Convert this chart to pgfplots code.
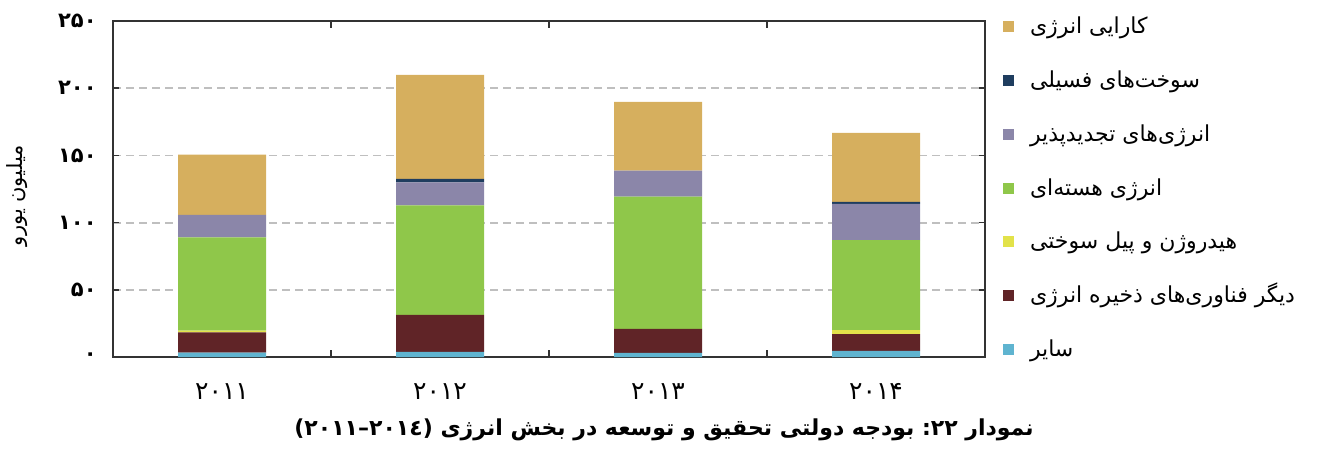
\documentclass[border=0pt]{standalone}
\usepackage{pgfplots}
\pgfplotsset{compat=1.18}
\usepackage{fontspec}
\TeXXeTstate=1
\newfontfamily\arabicfont[Script=Arabic]{DejaVu Sans}
\newfontfamily\pnfont{DejaVu Sans}
\definecolor{cgold}{HTML}{D6AF5E}
\definecolor{cnavy}{HTML}{1F3D5F}
\definecolor{cpurple}{HTML}{8B86A9}
\definecolor{cgreen}{HTML}{8FC74A}
\definecolor{cyellow}{HTML}{E2E24A}
\definecolor{cmaroon}{HTML}{602427}
\definecolor{cblue}{HTML}{5FB4D0}
\definecolor{caxis}{HTML}{333333}
\definecolor{cgrid}{HTML}{BFBFBF}
\pgfplotsset{
  sq/.style={legend image code/.code={\fill[##1] (0pt,-1.75pt) rectangle (5.5pt,3.75pt);}}
}
\begin{document}
\begin{tikzpicture}
\begin{axis}[
  scale only axis, width=436pt, height=168pt,
  xmin=-0.5, xmax=3.5, ymin=0, ymax=250,
  ybar stacked, bar width=44pt,
  clip=false,
  axis line style={draw=caxis, line width=0.9pt},
  xtick={0,1,2,3},
  xticklabels={۲۰۱۱,۲۰۱۲,۲۰۱۳,۲۰۱۴},
  minor xtick={0.5,1.5,2.5},
  major x tick style={draw=none},
  minor x tick style={draw=caxis, line width=0.8pt},
  minor tick length=3.5pt,
  ytick={0,50,100,150,200,250},
  yticklabels={۰,۵۰,۱۰۰,۱۵۰,۲۰۰,۲۵۰},
  ytick style={draw=caxis, line width=0.8pt},
  major tick length=3pt,
  tick align=inside,
  ymajorgrids,
  major grid style={draw=cgrid, line width=0.9pt, dash pattern=on 4pt off 2.5pt},
  yticklabel style={font=\pnfont\bfseries\fontsize{10.5}{12}\selectfont, inner sep=0pt, anchor=east, xshift=-8pt},
  xticklabel style={font=\pnfont\fontsize{12.5}{14}\selectfont, inner sep=0pt, anchor=north, yshift=-13pt},
  ylabel={\arabicfont\beginR میلیون یورو\endR},
  ylabel style={font=\fontsize{10.5}{12}\selectfont, at={(rel axis cs:-0.110,0.48)}, anchor=center},
  reverse legend,
  legend cell align=left,
  legend style={at={(rel axis cs:1.0206,0.497)}, anchor=west, draw=none, fill=none,
    inner sep=0pt, outer sep=0pt, row sep=15.85pt, column sep=8pt,
    font=\arabicfont\fontsize{11}{13}\selectfont,
    nodes={inner sep=0pt, text height=8pt, text depth=3pt}},
]
\addplot[fill=cblue, draw=none, sq] coordinates {(0,3.2) (1,3.9) (2,3.0) (3,4.5)};
\addlegendentry{\beginR سایر\endR}
\addplot[fill=cmaroon, draw=none, sq] coordinates {(0,15.2) (1,27.5) (2,18.0) (3,12.6)};
\addlegendentry{\beginR دیگر فناوری‌های ذخیره انرژی\endR}
\addplot[fill=cyellow, draw=none, sq] coordinates {(0,1.2) (1,0) (2,0) (3,3.0)};
\addlegendentry{\beginR هیدروژن و پیل سوختی\endR}
\addplot[fill=cgreen, draw=none, sq] coordinates {(0,69.4) (1,81.4) (2,98.4) (3,66.9)};
\addlegendentry{\beginR انرژی هسته‌ای\endR}
\addplot[fill=cpurple, draw=none, sq] coordinates {(0,16.8) (1,17.1) (2,19.3) (3,27.0)};
\addlegendentry{\beginR انرژی‌های تجدیدپذیر\endR}
\addplot[fill=cnavy, draw=none, sq] coordinates {(0,0) (1,2.6) (2,0) (3,1.5)};
\addlegendentry{\beginR سوخت‌های فسیلی\endR}
\addplot[fill=cgold, draw=none, sq] coordinates {(0,44.8) (1,77.5) (2,51.1) (3,51.3)};
\addlegendentry{\beginR کارایی انرژی\endR}
\node[font=\arabicfont\bfseries\fontsize{11}{13}\selectfont, anchor=center] at (rel axis cs:0.632,-0.217)
  {\beginR نمودار \beginL{\pnfont\bfseries :۲۲}\endL{} بودجه دولتی تحقیق و توسعه در بخش انرژی \beginL{\pnfont\bfseries (۲۰۱۱–۲۰۱٤)}\endL\endR};
\coordinate (bbSW) at (rel axis cs:-0.1296,-0.2708);
\coordinate (bbNE) at (rel axis cs:1.3933,1.0625);
\end{axis}
\pgfresetboundingbox
\path[use as bounding box] (bbSW) rectangle (bbNE);
\end{tikzpicture}
\end{document}
